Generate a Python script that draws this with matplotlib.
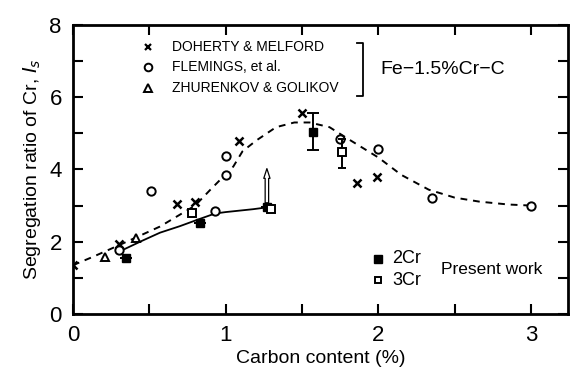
import matplotlib
matplotlib.use("Agg")
import matplotlib.pyplot as plt
from matplotlib.ticker import MultipleLocator

plt.rcParams['font.family'] = ['Liberation Sans', 'DejaVu Sans']

# Doherty & Melford (x)
dm_c = [0.0, 0.30, 0.68, 0.80, 1.09, 1.50, 1.86, 1.99]
dm_r = [1.35, 1.95, 3.05, 3.10, 4.78, 5.55, 3.63, 3.78]

# Flemings, et al. (o)
fl_c = [0.30, 0.51, 0.93, 1.00, 1.00, 1.75, 2.00, 2.35, 3.00]
fl_r = [1.78, 3.39, 2.86, 3.86, 4.36, 4.83, 4.56, 3.22, 3.00]

# Zhurenkov & Golikov (triangles)
zg_c = [0.21, 0.41]
zg_r = [1.58, 2.10]

# Present work
cr2_c = [0.35, 0.83, 1.27, 1.57]
cr2_r = [1.55, 2.53, 2.97, 5.03]
cr2_lo = [0, 0, 0, 0.48]
cr2_hi = [0, 0, 0, 0.52]
cr3_c = [0.78, 1.30, 1.76]
cr3_r = [2.80, 2.90, 4.47]
cr3_lo = [0, 0, 0.42]
cr3_hi = [0, 0, 0.36]

# Trend lines
dash_c = [0.0, 0.13, 0.30, 0.57, 0.80, 0.90, 1.05, 1.11, 1.20, 1.33, 1.45, 1.55,
          1.68, 1.80, 2.00, 2.15, 2.33, 2.50, 2.66, 2.85, 3.00]
dash_r = [1.35, 1.58, 1.90, 2.42, 3.00, 3.44, 4.08, 4.50, 4.80, 5.17, 5.30, 5.30,
          5.17, 4.85, 4.33, 3.85, 3.44, 3.22, 3.11, 3.03, 3.00]
solid_c = [0.33, 0.45, 0.57, 0.70, 0.81, 0.93, 1.00, 1.09, 1.18, 1.27]
solid_r = [1.78, 2.02, 2.25, 2.43, 2.60, 2.78, 2.82, 2.86, 2.90, 2.95]

# Arrow at 1.27 % C
arrow_c = 1.27
arrow_from = 3.00
arrow_to = 4.10

fig = plt.figure(figsize=(5.70, 3.72), dpi=100)
ax = fig.add_axes([0.128, 0.156, 0.868, 0.777])

ax.plot(dash_c, dash_r, color='black', lw=1.4, ls=(0, (3.5, 3)))
ax.plot(solid_c, solid_r, color='black', lw=1.3)

ms = 6
ax.plot(dm_c, dm_r, ls='none', marker='x', ms=5.5, mew=1.8, color='black')
ax.plot(fl_c, fl_r, ls='none', marker='o', ms=ms, mew=1.4, mfc='white', mec='black')
ax.plot(zg_c, zg_r, ls='none', marker='^', ms=ms, mew=1.4, mfc='white', mec='black')

ax.errorbar(cr2_c, cr2_r, yerr=[cr2_lo, cr2_hi], fmt='s', ms=ms, color='black',
            mfc='black', mec='black', ecolor='black', elinewidth=1.4, capsize=4,
            capthick=1.4)
ax.errorbar(cr3_c, cr3_r, yerr=[cr3_lo, cr3_hi], fmt='s', ms=ms - 0.5, color='black',
            mfc='white', mec='black', mew=1.4, ecolor='black', elinewidth=1.4,
            capsize=3, capthick=1.4)

ax.annotate('', xy=(arrow_c, arrow_to), xytext=(arrow_c, arrow_from),
            arrowprops=dict(arrowstyle='simple,head_width=0.45,head_length=0.7,tail_width=0.25',
                            fc='white', ec='black', lw=0.9))

ax.set_xlim(0, 3.24)
ax.set_ylim(0, 8)
ax.xaxis.set_major_locator(MultipleLocator(1))
ax.xaxis.set_minor_locator(MultipleLocator(0.5))
ax.yaxis.set_major_locator(MultipleLocator(2))
ax.yaxis.set_minor_locator(MultipleLocator(1))
ax.tick_params(which='both', direction='in', top=True, right=True, width=1.5)
ax.tick_params(which='major', length=7, labelsize=16, pad=8)
ax.tick_params(which='minor', length=7)
for s in ax.spines.values():
    s.set_linewidth(2)

ax.set_xlabel('Carbon content (%)', fontsize=14, labelpad=3)
ax.set_ylabel('Segregation ratio of Cr, $I_s$', fontsize=14, labelpad=5)

# Literature key
key_x = 0.49
rows = [(7.39, 'x', 'DOHERTY & MELFORD'),
        (6.83, 'o', 'FLEMINGS, et al.'),
        (6.25, '^', 'ZHURENKOV & GOLIKOV')]
for y, m, lbl in rows:
    if m == 'x':
        ax.plot([key_x], [y], marker='x', ms=5, mew=1.6, color='black', ls='none')
    else:
        ax.plot([key_x], [y], marker=m, ms=5.5, mew=1.4, mfc='white', mec='black', ls='none')
    ax.text(key_x + 0.16, y, lbl, fontsize=10, va='center', ha='left')
ax.plot([1.86, 1.90, 1.90, 1.86], [7.50, 7.50, 6.02, 6.02], color='black', lw=1.3)
ax.text(2.01, 6.78, 'Fe\u22121.5%Cr\u2212C', fontsize=14, va='center', ha='left')

# Present work key
ax.plot([2.0], [1.53], marker='s', ms=5.5, color='black', ls='none')
ax.plot([2.0], [0.94], marker='s', ms=5, mfc='white', mec='black', mew=1.4, ls='none')
ax.text(2.09, 1.53, '2Cr', fontsize=13, va='center', ha='left')
ax.text(2.09, 0.94, '3Cr', fontsize=13, va='center', ha='left')
ax.text(2.41, 1.23, 'Present work', fontsize=12.5, va='center', ha='left')

fig.savefig('out.png', dpi=100)
